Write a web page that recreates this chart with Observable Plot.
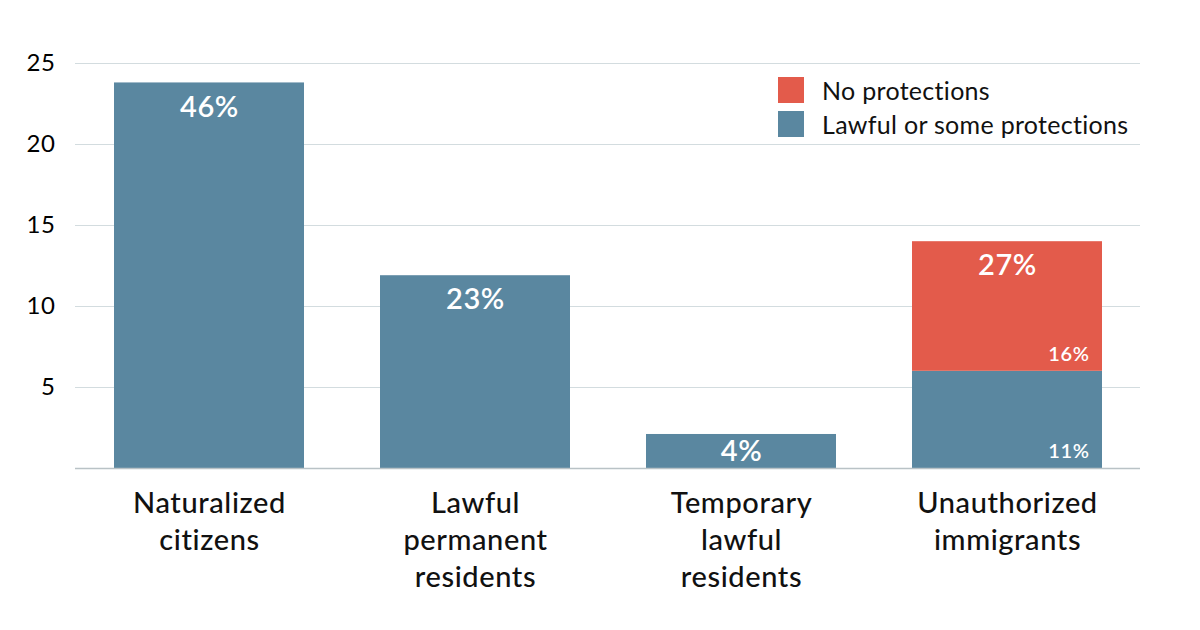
<!DOCTYPE html>
<html><head><meta charset="utf-8">
<script src="https://cdn.jsdelivr.net/npm/d3@7"></script>
<script src="https://cdn.jsdelivr.net/npm/@observablehq/plot@0.6"></script>
<style>
body{margin:0;background:#fff;font-family:Lato,"Noto Sans",sans-serif;}
#wrap{position:relative;width:1200px;height:630px;overflow:hidden;}
.legend{position:absolute;left:778px;top:73px;background:#fff;padding:0 16px 0 0;}
.legend .row{display:flex;align-items:center;height:34px;font-size:25px;color:#111;letter-spacing:0.3px;}
.legend .sw{width:26px;height:26px;margin-right:18px;}
svg text{letter-spacing:0.6px;}
</style></head><body><div id="wrap"></div>
<script>
const categories = ["Naturalized\ncitizens", "Lawful\npermanent\nresidents", "Temporary\nlawful\nresidents", "Unauthorized\nimmigrants"];
const lawfulValues = [23.8, 11.9, 2.1, 6.0];
const noProtectionValues = [0, 0, 0, 8.0];
const totalLabels = ["46%", "23%", "4%", "27%"];
const lawfulSegmentLabels = ["", "", "", "11%"];
const noProtectionSegmentLabels = ["", "", "", "16%"];
const seriesNames = ["Lawful or some protections", "No protections"];
const seriesColors = ["#5a87a0", "#e35b4b"];
const legendOrder = ["No protections", "Lawful or some protections"];
const yTicks = [5, 10, 15, 20, 25];

const rows = [];
categories.forEach((c, i) => {
  rows.push({cat: c, series: seriesNames[0], value: lawfulValues[i]});
  rows.push({cat: c, series: seriesNames[1], value: noProtectionValues[i]});
});
const totals = categories.map((c, i) => ({cat: c, total: lawfulValues[i] + noProtectionValues[i], label: totalLabels[i]}));
const segs = [];
categories.forEach((c, i) => {
  if (lawfulSegmentLabels[i]) segs.push({cat: c, base: 0, label: lawfulSegmentLabels[i]});
  if (noProtectionSegmentLabels[i]) segs.push({cat: c, base: lawfulValues[i], label: noProtectionSegmentLabels[i]});
});

const chart = Plot.plot({
  width: 1200,
  height: 630,
  marginLeft: 75,
  marginRight: 60,
  marginTop: 63,
  marginBottom: 162,
  style: {fontFamily: "Lato, 'Noto Sans', sans-serif", background: "#fff"},
  x: {domain: categories, paddingInner: 0.286, paddingOuter: 0.143, label: null},
  y: {domain: [0, 25], label: null},
  color: {domain: seriesNames, range: seriesColors},
  marks: [
    Plot.gridY(yTicks, {stroke: "#d3dcdf", strokeOpacity: 1, strokeWidth: 1.2}),
    Plot.barY(rows, {x: "cat", y: "value", fill: "series", order: seriesNames}),
    Plot.ruleY([0], {stroke: "#b9c2c6", strokeWidth: 1.5}),
    Plot.axisY({ticks: yTicks, tickSize: 0, tickPadding: 20, fontSize: 24, fill: "#000"}),
    Plot.axisX({tickSize: 0, tickPadding: 19, fontSize: 29, lineHeight: 1.26, fill: "#111", fontWeight: 500}),
    Plot.text(totals, {x: "cat", y: d => Math.max(d.total - 1.5, d.total / 2), text: "label", fill: "white", fontSize: 29, fontWeight: 600}),
    Plot.text(segs, {x: "cat", y: "base", text: "label", fill: "white", fontSize: 20, fontWeight: 600, textAnchor: "end", dx: 82, dy: -17})
  ]
});
const wrap = document.getElementById("wrap");
wrap.appendChild(chart);
const legend = document.createElement("div");
legend.className = "legend";
legendOrder.forEach(name => {
  const row = document.createElement("div");
  row.className = "row";
  const sw = document.createElement("div");
  sw.className = "sw";
  sw.style.background = seriesColors[seriesNames.indexOf(name)];
  row.appendChild(sw);
  const t = document.createElement("span");
  t.textContent = name;
  row.appendChild(t);
  legend.appendChild(row);
});
wrap.appendChild(legend);
</script></body></html>
